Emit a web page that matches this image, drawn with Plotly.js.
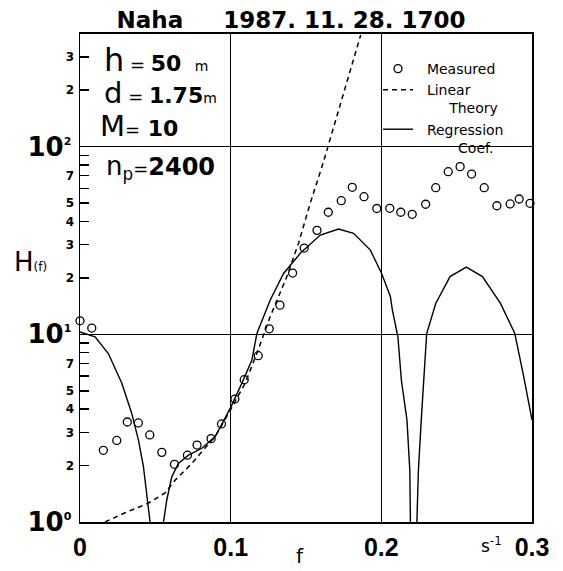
<!DOCTYPE html>
<html>
<head>
<meta charset="utf-8">
<script src="https://cdn.plot.ly/plotly-3.0.1.min.js"></script>
<style>html,body{margin:0;padding:0;background:#fff;}#chart{width:563px;height:571px;}</style>
</head>
<body>
<div id="chart"></div>
<script>
// ---- Data ----
const measF = [0.000,0.0078,0.0155,0.0244,0.0314,0.0387,0.0463,0.0543,0.0627,0.0713,0.0777,0.0870,0.0939,0.1028,0.1090,0.1183,0.1256,0.1327,0.1411,0.1488,0.1573,0.1648,0.1734,0.1807,0.1885,0.1970,0.2056,0.2129,0.2205,0.2294,0.2361,0.2444,0.2523,0.2599,0.2683,0.2767,0.2855,0.2915,0.2987];
const measH = [11.8,10.8,2.41,2.72,3.41,3.37,2.91,2.35,2.03,2.27,2.57,2.78,3.33,4.52,5.73,7.69,10.7,14.3,21.2,28.8,35.8,44.7,51.5,60.7,54.1,46.8,46.9,44.7,43.6,49.3,60.4,73.5,78.2,71.4,60.4,48.4,49.5,52.6,49.9];

const linF = [0.0166,0.030,0.0454,0.0565,0.0631,0.0742,0.0809,0.0897,0.0986,0.1096,0.1174,0.1262,0.1373,0.1450,0.1528,0.1613,0.1863];
const linH = [1.0,1.12,1.26,1.43,1.67,2.05,2.37,2.85,3.79,5.48,7.92,12.4,20.3,30.5,49.9,81.5,393];

const reg1F = [0.000,0.010,0.0188,0.0277,0.0343,0.0388,0.0421,0.0443,0.0465];
const reg1H = [10.3,9.7,7.9,5.5,3.8,2.73,1.97,1.42,1.0];
const reg2F = [0.0554,0.0576,0.0609,0.0653,0.0720,0.0809,0.0897,0.0997,0.1074,0.1141,0.1174,0.1262,0.1351,0.1462,0.1595,0.1716,0.1816,0.1927,0.2002,0.2060,0.2073,0.2110,0.2133,0.2170,0.2189,0.2193];
const reg2H = [1.0,1.31,1.74,2.05,2.27,2.47,2.85,4.03,5.48,7.3,10.1,15.2,21.1,27.0,33.8,36.4,34.5,28.1,21.1,15.9,13.5,9.7,5.7,3.5,1.89,1.0];
const reg3F = [0.2236,0.2246,0.2265,0.2284,0.2301,0.2361,0.2456,0.2564,0.2671,0.2791,0.2886,0.2946,0.2982,0.3000];
const reg3H = [1.0,1.89,3.5,6.45,10.1,14.6,20.3,22.8,20.3,14.6,10.1,5.9,4.29,3.5];

const xTickVals = [0,0.1,0.2,0.3];
const xTickText = ["0","0.1","0.2","0.3"];
const yDecVals = [1,10,100];
const yDecText = ['10<sup><span style="font-size:11px">0</span></sup>','10<sup><span style="font-size:11px">1</span></sup>','10<sup><span style="font-size:11px">2</span></sup>'];
const yMinorVals = [2,3,4,5,6,7,8,9,20,30,40,50,60,70,80,90,200,300];
const yMinorText = ["2","3","4","5"," ","7"," "," ","2","3","4","5"," ","7"," "," ","2","3"];

const regF = reg1F.concat([null], reg2F, [null], reg3F);
const regH = reg1H.concat([null], reg2H, [null], reg3H);

const NB = "\u00a0";
const traces = [
  {x: measF, y: measH, type: 'scatter', mode: 'markers', name: NB+NB+'Measured',
   marker: {symbol: 'circle-open', size: 8, color: '#000', line: {width: 1.3, color: '#000'}},
   cliponaxis: false},
  {x: linF, y: linH, type: 'scatter', mode: 'lines', name: NB+NB+'Linear<br>'+NB.repeat(7)+'Theory',
   line: {color: '#000', width: 1.5, dash: '5px,4px'}, yaxis: 'y2'},
  {x: regF, y: regH, type: 'scatter', mode: 'lines', name: NB+NB+'Regression<br>'+NB.repeat(9)+'Coef.',
   line: {color: '#000', width: 1.4}, connectgaps: false}
];

const PL = 80, PR = 532, PT = 34, PB = 522;
function px(x){ return (x-PL)/(PR-PL); }
function py(y){ return (PB-y)/(PB-PT); }

const layout = {
  width: 563, height: 571,
  margin: {l: PL, r: 563-PR, t: PT, b: 571-PB, pad: 0},
  paper_bgcolor: '#fff', plot_bgcolor: '#fff',
  showlegend: true,
  title: {text: 'Naha' + NB.repeat(5) + '1987. 11. 28. 1700',
          font: {family: 'DejaVu Sans', size: 23, color: '#000', weight: 'bold'},
          x: 291/563, xref: 'container', xanchor: 'center',
          y: 1-20/571, yref: 'container', yanchor: 'middle'},
  xaxis: {range: [0,0.3], tickmode: 'array', tickvals: xTickVals, ticktext: xTickText,
          showgrid: true, gridcolor: '#000', gridwidth: 1, zeroline: false,
          showline: true, linecolor: '#000', linewidth: 2, mirror: true,
          ticks: '', ticklabelstandoff: 2,
          tickfont: {family: 'Liberation Sans', size: 25, color: '#000', weight: 'bold'}},
  yaxis: {type: 'log', range: [0,2.6], tickmode: 'array', tickvals: yDecVals, ticktext: yDecText,
          showgrid: true, gridcolor: '#000', gridwidth: 1, zeroline: false,
          showline: true, linecolor: '#000', linewidth: 1.5, mirror: true,
          ticks: '', ticklabelstandoff: 2,
          tickfont: {family: 'DejaVu Sans', size: 26, color: '#000', weight: 'bold'}},
  yaxis2: {type: 'log', range: [0,2.6], overlaying: 'y', side: 'left', anchor: 'x',
          tickmode: 'array', tickvals: yMinorVals, ticktext: yMinorText,
          showgrid: false, zeroline: false, showline: false,
          ticks: 'inside', ticklen: 9, tickwidth: 1.4, tickcolor: '#000', ticklabelstandoff: 5,
          tickfont: {family: 'DejaVu Sans', size: 12, color: '#000', weight: 'bold'}},
  legend: {x: px(378), y: py(53), xanchor: 'left', yanchor: 'top', bgcolor: 'rgba(0,0,0,0)',
           borderwidth: 0, valign: 'top', tracegroupgap: 0, itemwidth: 30,
           font: {family: 'DejaVu Sans', size: 14, color: '#000'}},
  annotations: [
    {xref: 'paper', yref: 'paper', x: px(102), y: py(60), xanchor: 'left', yanchor: 'middle', showarrow: false,
     text: '<span style="font-size:32px">h</span><span style="font-size:18px"> = </span><b>50</b><span style="font-size:14px">' + NB + NB + NB + 'm</span>',
     font: {family: 'DejaVu Sans', size: 22, color: '#000'}},
    {xref: 'paper', yref: 'paper', x: px(102), y: py(93), xanchor: 'left', yanchor: 'middle', showarrow: false,
     text: '<span style="font-size:29px">d</span><span style="font-size:18px"> = </span><b>1.75</b><span style="font-size:14px">m</span>',
     font: {family: 'DejaVu Sans', size: 22, color: '#000'}},
    {xref: 'paper', yref: 'paper', x: px(98), y: py(126), xanchor: 'left', yanchor: 'middle', showarrow: false,
     text: '<span style="font-size:29px">M</span><span style="font-size:18px">=</span><b> 10</b>',
     font: {family: 'DejaVu Sans', size: 22, color: '#000'}},
    {xref: 'paper', yref: 'paper', x: px(104), y: py(167), xanchor: 'left', yanchor: 'middle', showarrow: false,
     text: '<span style="font-size:26px">n</span><sub>p</sub><span style="font-size:18px">=</span><b>2400</b>',
     font: {family: 'DejaVu Sans', size: 24, color: '#000'}},
    {xref: 'paper', yref: 'paper', x: px(12), y: py(262), xanchor: 'left', yanchor: 'middle', showarrow: false,
     text: 'H<span style="font-size:12px">(f)</span>',
     font: {family: 'DejaVu Sans', size: 26, color: '#000'}},
    {xref: 'paper', yref: 'paper', x: px(300), y: py(556), xanchor: 'center', yanchor: 'middle', showarrow: false,
     text: 'f', font: {family: 'DejaVu Sans', size: 20, color: '#000'}},
    {xref: 'paper', yref: 'paper', x: px(491), y: py(545), xanchor: 'center', yanchor: 'middle', showarrow: false,
     text: 's<sup>-1</sup>', font: {family: 'DejaVu Sans', size: 17, color: '#000'}}
  ]
};

Plotly.newPlot('chart', traces, layout, {staticPlot: true, displayModeBar: false});
</script>
</body>
</html>
